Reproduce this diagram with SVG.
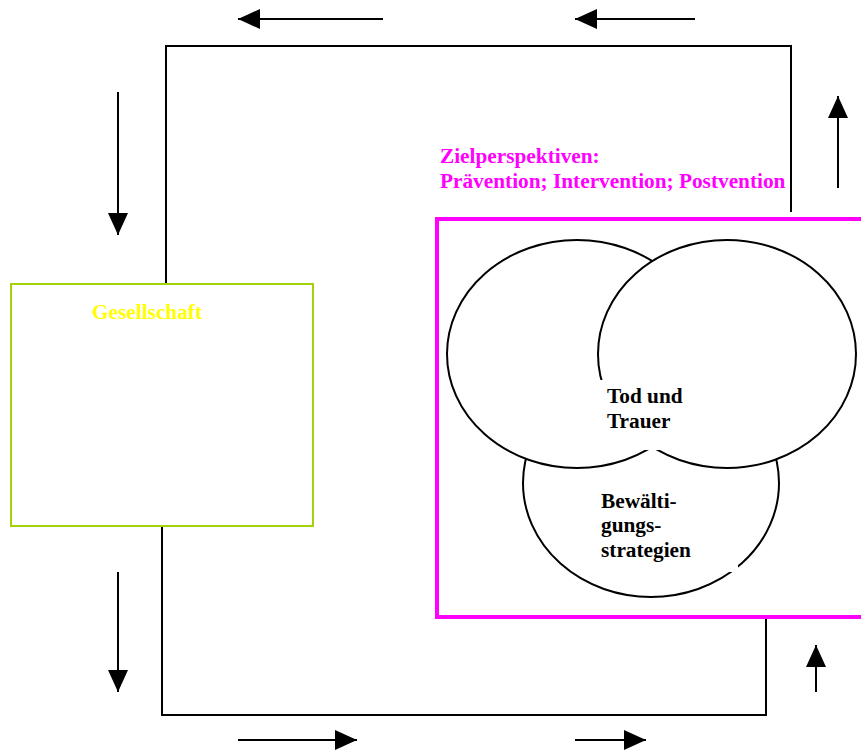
<svg xmlns="http://www.w3.org/2000/svg" width="861" height="751" viewBox="0 0 861 751">
<style>
.t{font-family:"Liberation Serif","Times New Roman",serif;font-weight:bold;font-size:21.3px}
.ln{stroke:#000;stroke-width:2;fill:none}
.ar{stroke:#000;stroke-width:2;fill:none;marker-end:url(#ah)}
.el{fill:#fff;stroke:#000;stroke-width:2}
</style>
<defs>
<marker id="ah" markerUnits="userSpaceOnUse" markerWidth="22" markerHeight="20" refX="22" refY="10" orient="auto">
<path d="M0,0 L22,10 L0,20 z" fill="#000"/>
</marker>
</defs>
<rect width="861" height="751" fill="#fff"/>
<g id="connectors">
<polyline class="ln" points="166,284 166,46 791,46 791,212"/>
<polyline class="ln" points="162,526 162,715 766,715 766,619"/>
<line class="ar" x1="383" y1="19" x2="238" y2="19"/>
<line class="ar" x1="695" y1="19" x2="575" y2="19"/>
<line class="ar" x1="118" y1="92" x2="118" y2="235"/>
<line class="ar" x1="838" y1="188" x2="838" y2="96"/>
<line class="ar" x1="118" y1="572" x2="118" y2="692"/>
<line class="ar" x1="238" y1="740" x2="357" y2="740"/>
<line class="ar" x1="575" y1="740" x2="646" y2="740"/>
<line class="ar" x1="816" y1="692" x2="816" y2="645"/>
</g>
<g id="gesellschaft">
<rect x="11" y="284" width="302" height="242" fill="#fff" stroke="#a3d10a" stroke-width="2"/>
<text class="t" x="92" y="319" fill="#ffff00">Gesellschaft</text>
</g>
<g id="zielperspektiven">
<text class="t" x="440" y="163" fill="#ff00ff">Zielperspektiven:</text>
<text class="t" x="440" y="188" fill="#ff00ff">Prävention; Intervention; Postvention</text>
<rect x="437" y="219" width="440" height="398" fill="none" stroke="#ff00ff" stroke-width="4"/>
</g>
<g id="bewaeltigung">
<ellipse class="el" cx="651" cy="483" rx="128" ry="114"/>
</g>
<g id="kreis-links">
<ellipse class="el" cx="577" cy="354" rx="130" ry="114"/>
</g>
<g id="kreis-rechts">
<ellipse class="el" cx="727" cy="354" rx="129" ry="114"/>
</g>
<g id="tod-und-trauer">
<rect x="597" y="380" width="104" height="70" fill="#fff"/>
<text class="t" x="607" y="403" fill="#000">Tod und</text>
<text class="t" x="607" y="428" fill="#000">Trauer</text>
</g>
<g id="bewaeltigungsstrategien">
<rect x="574" y="482" width="164" height="90" fill="#fff"/>
<text class="t" x="601" y="508" fill="#000">Bewälti-</text>
<text class="t" x="601" y="532" fill="#000">gungs-</text>
<text class="t" x="601" y="557" fill="#000">strategien</text>
</g>
</svg>
